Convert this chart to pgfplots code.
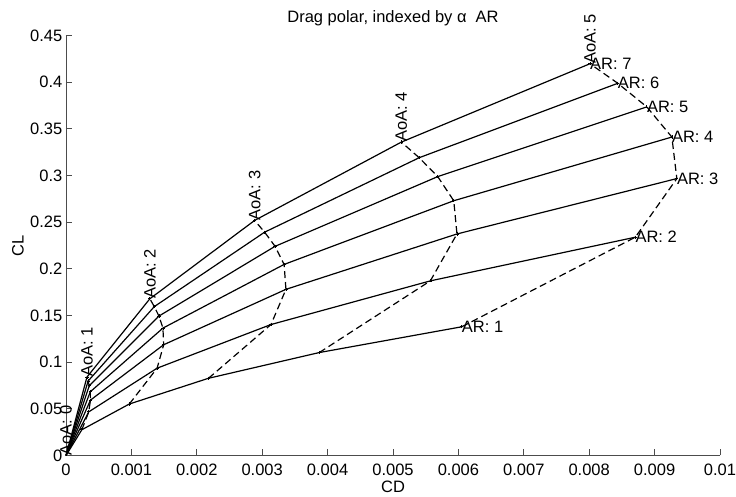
\documentclass[border=0pt]{standalone}
\usepackage{fontspec}
\setmainfont{Liberation Sans}
\usepackage{pgfplots}
\pgfplotsset{compat=1.18}
\begin{document}
\begin{tikzpicture}[x=1pt,y=1pt]
\useasboundingbox (-66,-41.5) rectangle (670,455.5);
\begin{axis}[
  at={(0,0)}, anchor=south west,
  scale only axis, width=654pt, height=420pt,
  xmin=0, xmax=0.01, ymin=0, ymax=0.45,
  axis lines=left,
  axis line style={-, draw=black!70, line width=0.8pt},
  tick align=inside,
  major tick length=6pt,
  tick style={draw=black!70, line width=0.8pt},
  scaled x ticks=false, scaled y ticks=false,
  xtick={0,0.001,0.002,0.003,0.004,0.005,0.006,0.007,0.008,0.009,0.01},
  xticklabels={0,0.001,0.002,0.003,0.004,0.005,0.006,0.007,0.008,0.009,0.01},
  ytick={0,0.05,0.1,0.15,0.2,0.25,0.3,0.35,0.4,0.45},
  yticklabels={0,0.05,0.1,0.15,0.2,0.25,0.3,0.35,0.4,0.45},
  /pgf/number format/assume math mode=true,
  every tick label/.append style={font=\fontsize{16.5}{18}\selectfont},
  xticklabel style={inner sep=0pt, yshift=-8pt},
  yticklabel style={inner sep=0pt, xshift=-3.5pt},
  xlabel={CD}, ylabel={CL},
  every axis x label/.style={at={(axis description cs:0.5,-0.075)}, anchor=center, font=\fontsize{16.5}{18}\selectfont},
  every axis y label/.style={at={(axis description cs:-0.0734,0.5)}, rotate=90, anchor=center, font=\fontsize{16.5}{18}\selectfont},
  title={Drag polar, indexed by α\hspace{0.55em}AR},
  every axis title/.style={at={(axis description cs:0.5,1.0405)}, anchor=center, font=\fontsize{16.5}{18}\selectfont},
  clip=false,
  every axis plot/.append style={black, line width=1.2pt},
]
% solid lines: one per aspect ratio, AoA = 0..5 deg
\addplot[solid] coordinates {(0,0) (0.000242,0.02758) (0.000968,0.05515) (0.002179,0.08273) (0.003873,0.1103) (0.006051,0.1379)};
\addplot[solid] coordinates {(0,0) (0.000348,0.04677) (0.001393,0.09355) (0.003134,0.14032) (0.005571,0.18710) (0.008705,0.23387)};
\addplot[solid] coordinates {(0,0) (0.000374,0.05934) (0.001494,0.11868) (0.003363,0.17802) (0.005978,0.23736) (0.009340,0.29670)};
\addplot[solid] coordinates {(0,0) (0.000371,0.06824) (0.001482,0.13648) (0.003335,0.20472) (0.005929,0.27296) (0.009264,0.34120)};
\addplot[solid] coordinates {(0,0) (0.000355,0.07470) (0.001421,0.14940) (0.003197,0.22410) (0.005684,0.29880) (0.008881,0.37350)};
\addplot[solid] coordinates {(0,0) (0.000338,0.07976) (0.001350,0.15952) (0.003037,0.23928) (0.005400,0.31904) (0.008437,0.39880)};
\addplot[solid] coordinates {(0,0) (0.000320,0.08395) (0.001282,0.16790) (0.002884,0.25185) (0.005128,0.33580) (0.008012,0.41975)};
% dashed lines: one per AoA, AR = 1..7
\pgfplotsset{dashline/.style={dash pattern=on 7pt off 4pt, mark=+, mark size=1.6pt, mark options={solid, line width=0.7pt}}}
\addplot[dashline] coordinates {(0.000242,0.02758) (0.000348,0.04677) (0.000374,0.05934) (0.000371,0.06824) (0.000355,0.07470) (0.000338,0.07976) (0.000320,0.08395)};
\addplot[dashline] coordinates {(0.000968,0.05515) (0.001393,0.09355) (0.001494,0.11868) (0.001482,0.13648) (0.001421,0.14940) (0.001350,0.15952) (0.001282,0.16790)};
\addplot[dashline] coordinates {(0.002179,0.08273) (0.003134,0.14032) (0.003363,0.17802) (0.003335,0.20472) (0.003197,0.22410) (0.003037,0.23928) (0.002884,0.25185)};
\addplot[dashline] coordinates {(0.003873,0.1103) (0.005571,0.18710) (0.005978,0.23736) (0.005929,0.27296) (0.005684,0.29880) (0.005400,0.31904) (0.005128,0.33580)};
\addplot[dashline] coordinates {(0.006051,0.1379) (0.008705,0.23387) (0.009340,0.29670) (0.009264,0.34120) (0.008881,0.37350) (0.008437,0.39880) (0.008012,0.41975)};
% labels
\begin{scope}[every node/.style={inner sep=0pt, font=\fontsize{16.5}{18}\selectfont}]
\node[anchor=west] at (axis cs:0.006051,0.1379) {AR: 1};
\node[anchor=west] at (axis cs:0.008705,0.23387) {AR: 2};
\node[anchor=west] at (axis cs:0.009340,0.29670) {AR: 3};
\node[anchor=west] at (axis cs:0.009264,0.34120) {AR: 4};
\node[anchor=west] at (axis cs:0.008881,0.37350) {AR: 5};
\node[anchor=west] at (axis cs:0.008437,0.39880) {AR: 6};
\node[anchor=west] at (axis cs:0.008012,0.41975) {AR: 7};
\node[anchor=west, rotate=90] at (axis cs:0,0) {AoA: 0};
\node[anchor=west, rotate=90] at (axis cs:0.000320,0.08395) {AoA: 1};
\node[anchor=west, rotate=90] at (axis cs:0.001282,0.16790) {AoA: 2};
\node[anchor=west, rotate=90] at (axis cs:0.002884,0.25185) {AoA: 3};
\node[anchor=west, rotate=90] at (axis cs:0.005128,0.33580) {AoA: 4};
\node[anchor=west, rotate=90] at (axis cs:0.008012,0.41975) {AoA: 5};
\end{scope}
\end{axis}
\end{tikzpicture}
\end{document}
